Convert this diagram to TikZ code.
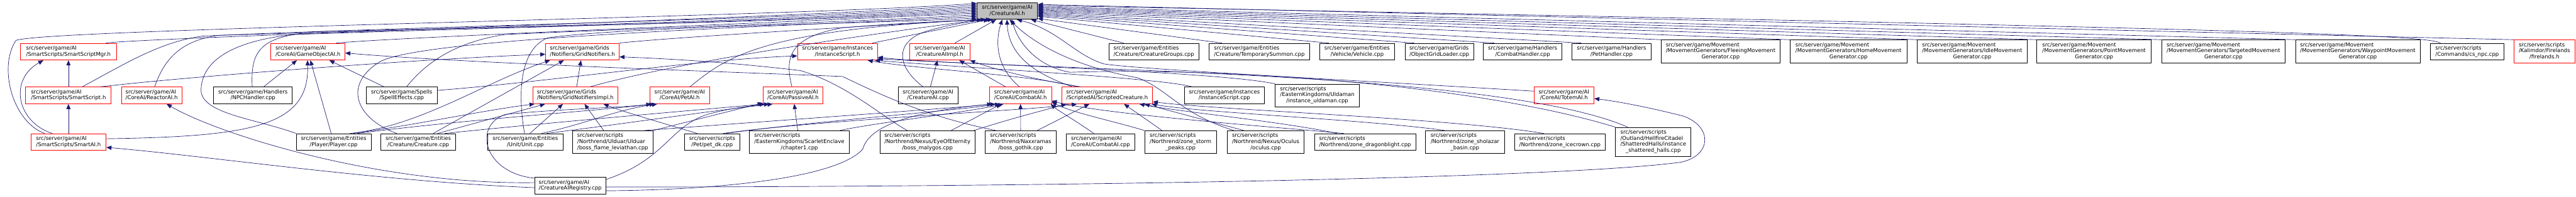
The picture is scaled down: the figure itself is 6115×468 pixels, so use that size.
\documentclass[tikz,border=0pt]{standalone}
\usepackage{fontspec}
\setmainfont{DejaVu Sans}
\usepackage{tikz}
\usetikzlibrary{arrows.meta}
\definecolor{dgNavy}{RGB}{25,25,112}
\definecolor{dgRed}{RGB}{255,0,0}
\definecolor{dgFill}{RGB}{191,191,191}
\definecolor{dgInk}{RGB}{0,0,0}
\newcommand{\flab}[2]{\begin{tabular}{@{}l@{}}#1\\\multicolumn{1}{@{}c@{}}{#2}\end{tabular}}

\begin{document}
\begin{tikzpicture}[x=1pt,y=-1pt]
\tikzset{
cfile/.style={draw=dgInk,fill=white,line width=1.1pt,inner sep=0pt,minimum height=40pt,
font=\fontsize{12.7}{14.5}\selectfont,text=dgInk},
hfile/.style={cfile,draw=dgRed},
rootf/.style={cfile,fill=dgFill},
incl/.style={draw=dgNavy,line width=1pt,-{Triangle[length=12pt,width=10pt]}}
}
\useasboundingbox (0,0) rectangle (6115,468);
\node[rootf,minimum width=144pt] (root) at (2391,26) {\flab{src/server/game/AI}{/CreatureAI.h}};
\node[hfile,minimum width=227pt] (smgr) at (162.5,123) {\flab{src/server/game/AI}{/SmartScripts/SmartScriptMgr.h}};
\node[hfile,minimum width=176pt] (goai) at (731,123) {\flab{src/server/game/AI}{/CoreAI/GameObjectAI.h}};
\node[hfile,minimum width=175pt] (gridn) at (1382.5,123) {\flab{src/server/game/Grids}{/Notifiers/GridNotifiers.h}};
\node[hfile,minimum width=190pt] (insth) at (1988,123) {\flab{src/server/game/Instances}{/InstanceScript.h}};
\node[hfile,minimum width=142pt] (aiimpl) at (2231,123) {\flab{src/server/game/AI}{/CreatureAIImpl.h}};
\node[cfile,minimum width=214pt] (cgroups) at (2739,123) {\flab{src/server/game/Entities}{/Creature/CreatureGroups.cpp}};
\node[cfile,minimum width=239pt] (tsummon) at (2989.5,123) {\flab{src/server/game/Entities}{/Creature/TemporarySummon.cpp}};
\node[cfile,minimum width=177pt] (vehicle) at (3221.5,123) {\flab{src/server/game/Entities}{/Vehicle/Vehicle.cpp}};
\node[cfile,minimum width=163pt] (ogrid) at (3416.5,123) {\flab{src/server/game/Grids}{/ObjectGridLoader.cpp}};
\node[cfile,minimum width=187pt] (combath) at (3614.5,123) {\flab{src/server/game/Handlers}{/CombatHandler.cpp}};
\node[cfile,minimum width=187pt] (peth) at (3825.5,123) {\flab{src/server/game/Handlers}{/PetHandler.cpp}};
\foreach \n/\x/\w/\k in {fleeing/4084.5/283/Fleeing,home/4388/278/Home,idle/4681.5/261/Idle,
  point/4971/272/Point,targeted/5278/294/Targeted,waypoint/5597/296/Waypoint}
  \node[cfile,minimum width=\w pt,minimum height=55pt] (\n) at (\x,122.5)
    {\flab{src/server/game/Movement\\/MovementGenerators/\k Movement}{Generator.cpp}};
\node[cfile,minimum width=175pt] (csnpc) at (5856.5,123) {\flab{src/server/scripts}{/Commands/cs\_npc.cpp}};
\node[hfile,minimum width=144pt,minimum height=55pt] (firel) at (6040,122.5) {\flab{src/server/scripts\\/Kalimdor/Firelands}{/firelands.h}};
\node[hfile,minimum width=203pt] (sscript) at (162.5,227) {\flab{src/server/game/AI}{/SmartScripts/SmartScript.h}};
\node[hfile,minimum width=144pt] (reactor) at (360,227) {\flab{src/server/game/AI}{/CoreAI/ReactorAI.h}};
\node[cfile,minimum width=187pt] (npch) at (600.5,227) {\flab{src/server/game/Handlers}{/NPCHandler.cpp}};
\node[cfile,minimum width=169pt] (speff) at (953.5,227) {\flab{src/server/game/Spells}{/SpellEffects.cpp}};
\node[hfile,minimum width=201pt] (gnimpl) at (1365.5,227) {\flab{src/server/game/Grids}{/Notifiers/GridNotifiersImpl.h}};
\node[hfile,minimum width=143pt] (petai) at (1613.5,227) {\flab{src/server/game/AI}{/CoreAI/PetAI.h}};
\node[hfile,minimum width=143pt] (passive) at (1882.5,227) {\flab{src/server/game/AI}{/CoreAI/PassiveAI.h}};
\node[cfile,minimum width=142pt] (aicpp) at (2203,227) {\flab{src/server/game/AI}{/CreatureAI.cpp}};
\node[hfile,minimum width=147pt] (combat) at (2422.5,227) {\flab{src/server/game/AI}{/CoreAI/CombatAI.h}};
\node[hfile,minimum width=216pt] (scripted) at (2628,227) {\flab{src/server/game/AI}{/ScriptedAI/ScriptedCreature.h}};
\node[cfile,minimum width=191pt] (instcpp) at (2906.5,227) {\flab{src/server/game/Instances}{/InstanceScript.cpp}};
\node[cfile,minimum width=200pt,minimum height=54pt] (uldaman) at (3127,227) {\flab{src/server/scripts\\/EasternKingdoms/Uldaman}{/instance\_uldaman.cpp}};
\node[hfile,minimum width=143pt] (totem) at (3712.5,227) {\flab{src/server/game/AI}{/CoreAI/TotemAI.h}};
\node[hfile,minimum width=179pt] (smartai) at (162.5,338) {\flab{src/server/game/AI}{/SmartScripts/SmartAI.h}};
\node[cfile,minimum width=178pt] (player) at (792,338) {\flab{src/server/game/Entities}{/Player/Player.cpp}};
\node[cfile,minimum width=178pt] (creature) at (993,338) {\flab{src/server/game/Entities}{/Creature/Creature.cpp}};
\node[cfile,minimum width=178pt] (unit) at (1247,338) {\flab{src/server/game/Entities}{/Unit/Unit.cpp}};
\node[cfile,minimum width=191pt,minimum height=54pt] (leviathan) at (1454.5,338) {\flab{src/server/scripts\\/Northrend/Ulduar/Ulduar}{/boss\_flame\_leviathan.cpp}};
\node[cfile,minimum width=131pt] (petdk) at (1690.5,338) {\flab{src/server/scripts}{/Pet/pet\_dk.cpp}};
\node[cfile,minimum width=237pt,minimum height=54pt] (chapter1) at (1897.5,338) {\flab{src/server/scripts\\/EasternKingdoms/ScarletEnclave}{/chapter1.cpp}};
\node[cfile,minimum width=225pt,minimum height=54pt] (malygos) at (2201.5,338) {\flab{src/server/scripts\\/Northrend/Nexus/EyeOfEternity}{/boss\_malygos.cpp}};
\node[cfile,minimum width=168pt,minimum height=54pt] (gothik) at (2423,338) {\flab{src/server/scripts\\/Northrend/Naxxramas}{/boss\_gothik.cpp}};
\node[cfile,minimum width=163pt] (combatcpp) at (2612.5,338) {\flab{src/server/game/AI}{/CoreAI/CombatAI.cpp}};
\node[cfile,minimum width=171pt,minimum height=54pt] (storm) at (2802.5,338) {\flab{src/server/scripts\\/Northrend/zone\_storm}{\_peaks.cpp}};
\node[cfile,minimum width=183pt,minimum height=54pt] (oculus) at (3004.5,338) {\flab{src/server/scripts\\/Northrend/Nexus/Oculus}{/oculus.cpp}};
\node[cfile,minimum width=241pt] (dragon) at (3240.5,338) {\flab{src/server/scripts}{/Northrend/zone\_dragonblight.cpp}};
\node[cfile,minimum width=187pt,minimum height=54pt] (sholazar) at (3477.5,338) {\flab{src/server/scripts\\/Northrend/zone\_sholazar}{\_basin.cpp}};
\node[cfile,minimum width=214pt] (icecrown) at (3703,338) {\flab{src/server/scripts}{/Northrend/zone\_icecrown.cpp}};
\node[cfile,minimum width=179pt,minimum height=69pt] (shattered) at (3924.5,337.5) {\flab{src/server/scripts\\/Outland/HellfireCitadel\\/ShatteredHalls/instance}{\_shattered\_halls.cpp}};
\node[cfile,minimum width=169pt] (registry) at (1353.5,442) {\flab{src/server/game/AI}{/CreatureAIRegistry.cpp}};
\draw[incl] (smartai.160) .. controls (30,290) and (-5,160) .. (38,96) .. controls (120,68) and (1900,40) .. (root.166);
\draw[incl] (smgr.13) .. controls (330,90) and (1900,42) .. (root.169);
\draw[incl] (sscript.32) .. controls (300,150) and (380,100) .. (480,86) .. controls (1000,62) and (1900,46) .. (root.172);
\draw[incl] (reactor.71) .. controls (390,140) and (430,96) .. (520,84) .. controls (1200,64) and (1900,48) .. (root.175);
\draw[incl] (player.north west) .. controls (600,280) and (465,270) .. (478,205) .. controls (485,140) and (560,96) .. (700,82) .. controls (1300,62) and (1900,50) .. (root.178);
\draw[incl] (npch.95) .. controls (595,120) and (615,85) .. (760,75) .. controls (1300,62) and (1900,52) .. (root.181);
\draw[incl] (goai.17) .. controls (950,88) and (1900,52) .. (root.184);
\draw[incl] (speff.60) .. controls (1010,150) and (1080,100) .. (1200,82) .. controls (1600,64) and (2000,54) .. (root.187);
\draw[incl] (creature.158) .. controls (850,285) and (810,205) .. (900,148) .. controls (1000,85) and (2000,58) .. (root.190);
\draw[incl] (unit.95) .. controls (1230,230) and (1230,120) .. (1300,90) .. controls (1500,62) and (2100,56) .. (root.193);
\draw[incl] (gridn.north east) .. controls (1600,88) and (2100,60) .. (root.196);
\draw[incl] (gnimpl.30) .. controls (1600,150) and (2000,90) .. (root.199);
\draw[incl] (petai.40) .. controls (1720,140) and (1800,70) .. (root.202);
\draw[incl] (insth.14) -- (root.205);
\draw[incl] (passive.97) .. controls (1860,130) and (1880,88) .. (2000,66) .. controls (2150,54) and (2250,50) .. (root.208);
\draw[incl] (aicpp.120) .. controls (2130,160) and (2120,100) .. (2200,74) .. controls (2250,60) and (2290,52) .. (root.211);
\draw[incl] (aiimpl.30) -- (root.218);
\draw[incl] (combat.97) .. controls (2365,160) and (2362,100) .. (root.240);
\draw[incl] (scripted.166) .. controls (2470,180) and (2395,140) .. (root.268);
\draw[incl] (oculus.160) .. controls (2800,270) and (2770,210) .. (2700,185) .. controls (2560,160) and (2460,110) .. (root.285);
\draw[incl] (shattered.north west) .. controls (3500,200) and (2900,160) .. (2540,172) .. controls (2470,160) and (2420,110) .. (root.298);
\draw[incl] (totem.172) .. controls (3200,190) and (2700,165) .. (2620,152) .. controls (2550,130) and (2510,70) .. (root.318);
\foreach \n/\a/\b in {cgroups/340/164,tsummon/346/167,vehicle/350/163,ogrid/352/161,combath/354/163,peth/356/164}
  \draw[incl] (\n.\b) -- (root.\a);
\foreach \n/\a in {fleeing/358,home/0,idle/2,point/4,targeted/6,waypoint/8,firel/12}
  \draw[incl] (\n.north west) -- (root.\a);
\draw[incl] (csnpc.162) .. controls (5760,85) and (5500,70) .. (root.10);
\draw[incl] (smartai) -- (sscript);
\draw[incl] (sscript) -- (smgr);
\draw[incl] (smartai.152) .. controls (40,290) and (20,190) .. (smgr.199);
\draw[incl] (sscript.15) .. controls (450,182) and (1000,140) .. (gridn.184);
\draw[incl] (smartai.5) .. controls (600,325) and (735,300) .. (goai.267);
\draw[incl] (registry.175) .. controls (900,440) and (520,320) .. (reactor.330);
\draw[incl] (registry.183) .. controls (900,432) and (500,372) .. (smartai.352);
\draw[incl] (registry.168) .. controls (1150,412) and (1120,300) .. (1200,272) .. controls (1350,258) and (1480,256) .. (petai.197);
\draw[incl] (registry.10) .. controls (1580,380) and (1590,300) .. (1680,272) .. controls (1730,258) and (1780,252) .. (passive.200);
\draw[incl] (registry.352) .. controls (1700,452) and (1985,425) .. (2048,355) .. controls (2065,290) and (2200,262) .. (combat.197);
\draw[incl] (registry.358) .. controls (2500,445) and (3700,425) .. (3990,386) .. controls (4065,370) and (4065,300) .. (3995,276) .. controls (3900,252) and (3830,240) .. (totem.354);
\draw[incl] (npch.39) -- (goai.218);
\draw[incl] (speff.154) -- (goai.338);
\draw[incl] (player) -- (goai);
\draw[incl] (speff.8) .. controls (1300,195) and (1650,142) .. (insth.186);
\draw[incl] (gothik.155) .. controls (2200,278) and (2090,225) .. (2000,182) .. controls (1700,170) and (1100,150) .. (goai.358);
\draw[incl] (malygos.150) .. controls (2100,282) and (2010,200) .. (1900,168) .. controls (1750,150) and (1600,140) .. (gridn.352);
\draw[incl] (player.28) .. controls (1000,300) and (1150,195) .. (gridn.195);
\draw[incl] (player.24) .. controls (1000,295) and (1150,262) .. (gnimpl.192);
\draw[incl] (player.20) .. controls (1100,285) and (1400,265) .. (petai.199);
\draw[incl] (creature.30) -- (gridn.205);
\draw[incl] (creature.24) -- (gnimpl.196);
\draw[incl] (creature.18) .. controls (1300,292) and (1650,262) .. (passive.197);
\draw[incl] (unit.62) -- (gnimpl.215);
\draw[incl] (unit.28) .. controls (1400,292) and (1460,262) .. (petai.201);
\draw[incl] (unit.22) .. controls (1500,292) and (1700,262) .. (passive.203);
\draw[incl] (gnimpl) -- (gridn);
\draw[incl] (leviathan.128) -- (gnimpl.317);
\draw[incl] (leviathan.north east) -- (passive.194);
\draw[incl] (leviathan.20) .. controls (1800,290) and (2200,262) .. (combat.199);
\draw[incl] (petdk.150) .. controls (1570,292) and (1480,266) .. (gnimpl.343);
\draw[incl] (petdk.32) .. controls (1900,292) and (2250,265) .. (combat.203);
\draw[incl] (petdk.38) .. controls (1950,285) and (2450,262) .. (scripted.196);
\draw[incl] (chapter1) -- (passive);
\draw[incl] (chapter1.16) .. controls (2080,292) and (2290,268) .. (combat.207);
\draw[incl] (aicpp) -- (aiimpl);
\draw[incl] (combat.150) -- (aiimpl.336);
\draw[incl] (scripted.162) .. controls (2460,190) and (2360,165) .. (aiimpl.344);
\draw[incl] (scripted.164) .. controls (2450,178) and (2180,165) .. (insth.344);
\draw[incl] (instcpp.165) .. controls (2750,185) and (2300,162) .. (insth.347);
\draw[incl] (uldaman.north west) .. controls (2900,172) and (2350,155) .. (insth.350);
\draw[incl] (shattered.150) .. controls (3550,165) and (2400,168) .. (insth.352);
\draw[incl] (malygos.26) -- (combat.204);
\draw[incl] (malygos.14) .. controls (2400,282) and (2480,262) .. (scripted.192);
\draw[incl] (gothik) -- (combat);
\draw[incl] (gothik.35) -- (scripted.206);
\draw[incl] (combatcpp.128) .. controls (2550,285) and (2510,262) .. (combat.344);
\draw[incl] (storm.148) -- (scripted.333);
\draw[incl] (storm.north west) .. controls (2650,290) and (2545,268) .. (combat.348);
\draw[incl] (oculus.152) -- (scripted.347);
\draw[incl] (dragon.163) .. controls (3050,290) and (2800,266) .. (scripted.345);
\draw[incl] (dragon.158) .. controls (3000,300) and (2620,272) .. (combat.350);
\draw[incl] (sholazar.150) .. controls (3250,285) and (2850,268) .. (scripted.349);
\draw[incl] (icecrown.152) .. controls (3450,282) and (2900,262) .. (scripted.352);
\end{tikzpicture}
\end{document}
